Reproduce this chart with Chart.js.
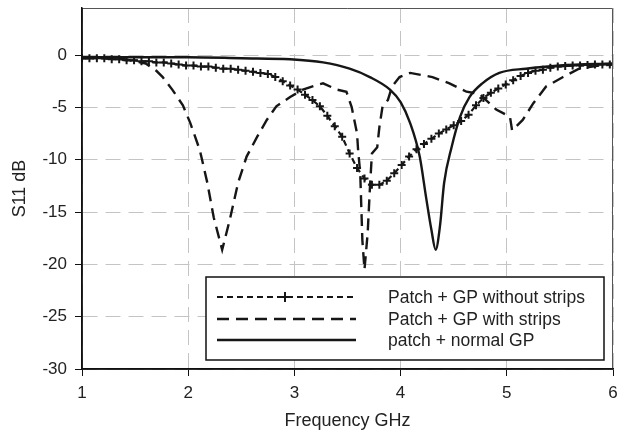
<!DOCTYPE html>
<html>
<head>
<meta charset="utf-8">
<script src="https://cdn.jsdelivr.net/npm/chart.js@4/dist/chart.umd.min.js"></script>
<style>
  html, body { margin: 0; padding: 0; background: #fff; }
  #wrap { width: 619px; height: 434px; }
</style>
</head>
<body>
<div id="wrap"><canvas id="chart"></canvas></div>
<script>
// frequency (GHz) / S11 (dB)
const freqNoStrips = [1.00, 1.07, 1.14, 1.21, 1.28, 1.35, 1.42, 1.49, 1.56, 1.63, 1.70, 1.77, 1.84, 1.91, 1.98,
  2.05, 2.12, 2.19, 2.26, 2.33, 2.40, 2.47, 2.54, 2.61, 2.68, 2.75, 2.82, 2.89, 2.96, 3.03, 3.10, 3.17, 3.24,
  3.31, 3.38, 3.45, 3.52, 3.59, 3.66, 3.73, 3.80, 3.87, 3.94, 4.01, 4.08, 4.15, 4.22, 4.29, 4.36, 4.43, 4.50,
  4.57, 4.64, 4.71, 4.78, 4.85, 4.92, 4.99, 5.06, 5.13, 5.20, 5.27, 5.34, 5.41, 5.48, 5.55, 5.62, 5.69, 5.76,
  5.83, 5.90, 5.97];
const s11NoStrips = [-0.3, -0.3, -0.3, -0.3, -0.4, -0.4, -0.5, -0.5, -0.6, -0.6, -0.7, -0.7, -0.8, -0.9, -1.0,
  -1.0, -1.1, -1.1, -1.2, -1.3, -1.3, -1.4, -1.5, -1.6, -1.7, -1.8, -2.1, -2.5, -2.9, -3.3, -3.8, -4.3, -4.9,
  -5.8, -6.8, -7.8, -9.4, -10.8, -11.8, -12.4, -12.4, -12.0, -11.3, -10.5, -9.7, -9.0, -8.5, -8.0, -7.5, -7.1, -6.7,
  -6.3, -5.7, -4.8, -4.1, -3.6, -3.2, -2.8, -2.4, -2.0, -1.7, -1.5, -1.4, -1.2, -1.1, -1.05, -1.0, -1.0, -0.95,
  -0.9, -0.9, -0.9];

const freqStrips = [1.00, 1.20, 1.40, 1.50, 1.60, 1.70, 1.76, 1.85, 1.95, 2.02, 2.11, 2.18, 2.24, 2.32, 2.39,
  2.47, 2.55, 2.65, 2.74, 2.83, 2.96, 3.08, 3.20, 3.27, 3.40, 3.49, 3.54, 3.59, 3.60, 3.62, 3.63, 3.64, 3.66,
  3.69, 3.71, 3.73, 3.78, 3.80, 3.83, 3.88, 3.92, 3.99, 4.09, 4.30, 4.46, 4.62, 4.74, 4.90, 5.03, 5.05, 5.15,
  5.25, 5.37, 5.53, 5.68, 5.87, 6.00];
const s11Strips = [-0.3, -0.3, -0.4, -0.6, -0.8, -1.5, -2.1, -3.3, -4.8, -6.5, -9.1, -12.2, -15.5, -18.6, -15.8,
  -12.2, -9.7, -7.8, -6.2, -4.9, -4.0, -3.3, -2.9, -2.7, -3.3, -3.5, -5.0, -7.5, -9.1, -11.3, -14.5, -17.7, -20.5,
  -17.0, -12.9, -9.4, -8.8, -6.9, -4.9, -4.3, -3.0, -2.1, -1.7, -2.1, -2.7, -3.5, -3.7, -5.2, -5.9, -7.2, -6.2,
  -4.6, -3.0, -2.1, -1.3, -1.0, -0.9];

const freqNormal = [1.00, 1.50, 2.00, 2.50, 2.96, 3.27, 3.52, 3.71, 3.90, 4.00, 4.09, 4.18, 4.24, 4.29, 4.33,
  4.37, 4.41, 4.48, 4.56, 4.65, 4.77, 4.93, 5.18, 5.50, 6.00];
const s11Normal = [-0.2, -0.2, -0.2, -0.3, -0.4, -0.7, -1.3, -2.1, -3.3, -4.5, -6.5, -9.7, -13.6, -16.7, -18.6,
  -16.4, -12.2, -8.8, -5.9, -4.0, -2.7, -1.7, -1.3, -1.0, -0.8];

const seriesNames = ["Patch + GP without strips", "Patch + GP with strips", "patch + normal GP"];
const xTicks = [1, 2, 3, 4, 5, 6];
const yTicks = [-30, -25, -20, -15, -10, -5, 0];

function toPoints(xs, ys) {
  const pts = [];
  for (let i = 0; i < xs.length; i++) {
    pts.push({ x: xs[i], y: ys[i] });
  }
  return pts;
}

const ink = "#161616";
const fontFam = "'Liberation Sans', Arial, sans-serif";

// solid axes, box round the plot + legend inside the plot
const frameAndLegend = {
  id: "frameAndLegend",
  afterDraw(chart) {
    const ctx = chart.ctx;
    const a = chart.chartArea;
    ctx.save();
    ctx.setLineDash([]);
    ctx.strokeStyle = "#555";
    ctx.lineWidth = 1;
    ctx.beginPath();
    ctx.moveTo(a.left, a.top + 0.5);
    ctx.lineTo(a.right - 0.5, a.top + 0.5);
    ctx.lineTo(a.right - 0.5, a.bottom);
    ctx.stroke();

    ctx.strokeStyle = "#111";
    ctx.lineWidth = 1.5;
    ctx.beginPath();
    ctx.moveTo(a.left, a.top);
    ctx.lineTo(a.left, a.bottom);
    ctx.lineTo(a.right, a.bottom);
    ctx.stroke();

    // legend
    const bx = 206, by = 277, bw = 398, bh = 83;
    ctx.fillStyle = "#fff";
    ctx.fillRect(bx, by, bw, bh);
    ctx.strokeStyle = "#111";
    ctx.lineWidth = 1.5;
    ctx.strokeRect(bx, by, bw, bh);

    const rows = [297, 319, 340];
    chart.data.datasets.forEach((ds, i) => {
      const y = rows[i];
      ctx.strokeStyle = ds.borderColor;
      ctx.lineWidth = ds.borderWidth;
      ctx.setLineDash(ds.borderDash || []);
      ctx.beginPath();
      ctx.moveTo(217, y);
      ctx.lineTo(356, y);
      ctx.stroke();
      ctx.setLineDash([]);
      if (ds.pointRadius > 0) {
        ctx.lineWidth = 2;
        ctx.beginPath();
        ctx.moveTo(285 - 5, y);
        ctx.lineTo(285 + 5, y);
        ctx.moveTo(285, y - 5);
        ctx.lineTo(285, y + 5);
        ctx.stroke();
      }
      ctx.fillStyle = "#222";
      ctx.font = "17.5px " + fontFam;
      ctx.textBaseline = "middle";
      ctx.fillText(ds.label, 388, y + 1);
    });
    ctx.restore();
  }
};

new Chart(document.getElementById("chart"), {
  type: "line",
  data: {
    datasets: [
      {
        label: seriesNames[0],
        data: toPoints(freqNoStrips, s11NoStrips),
        borderColor: ink,
        borderWidth: 2.2,
        borderDash: [6, 4],
        pointStyle: "cross",
        pointRadius: 4,
        pointBorderWidth: 2,
        pointBorderColor: ink,
        tension: 0
      },
      {
        label: seriesNames[1],
        data: toPoints(freqStrips, s11Strips),
        borderColor: ink,
        borderWidth: 2.4,
        borderDash: [12, 7],
        pointRadius: 0,
        tension: 0
      },
      {
        label: seriesNames[2],
        data: toPoints(freqNormal, s11Normal),
        borderColor: ink,
        borderWidth: 2.4,
        pointRadius: 0,
        cubicInterpolationMode: "monotone"
      }
    ]
  },
  options: {
    responsive: true,
    maintainAspectRatio: false,
    animation: false,
    layout: { padding: { left: 0, right: 6, top: 8, bottom: 0 } },
    plugins: {
      legend: { display: false },
      tooltip: { enabled: false }
    },
    scales: {
      x: {
        type: "linear",
        min: 1,
        max: 6,
        afterFit(scale) {
          scale.height = 65;
          scale.paddingLeft = 0;
          scale.paddingRight = 0;
        },
        afterBuildTicks(scale) { scale.ticks = xTicks.map(v => ({ value: v })); },
        border: { display: true, color: "#111", width: 1.5, dash: [15, 8] },
        grid: {
          color: "#c4c4c4",
          lineWidth: 1,
          tickBorderDash: [],
          tickColor: "#111",
          tickLength: 7,
          drawTicks: true
        },
        ticks: {
          color: "#222",
          padding: 7,
          font: { family: fontFam, size: 17 },
          maxRotation: 0
        },
        title: {
          display: true,
          text: "Frequency GHz",
          color: "#222",
          padding: { top: 4, bottom: 2 },
          font: { family: fontFam, size: 18 }
        }
      },
      y: {
        type: "linear",
        min: -30,
        max: 4.5,
        afterFit(scale) {
          scale.width = 82;
          scale.paddingTop = 0;
          scale.paddingBottom = 0;
        },
        afterBuildTicks(scale) { scale.ticks = yTicks.map(v => ({ value: v })); },
        border: { display: true, color: "#111", width: 1.5, dash: [15, 8] },
        grid: {
          color: "#c4c4c4",
          lineWidth: 1,
          tickBorderDash: [],
          tickColor: "#111",
          tickLength: 7
        },
        ticks: {
          color: "#222",
          padding: 8,
          font: { family: fontFam, size: 17 }
        },
        title: {
          display: true,
          text: "S11 dB",
          color: "#222",
          padding: { top: 9, bottom: 4 },
          font: { family: fontFam, size: 18 }
        }
      }
    }
  },
  plugins: [frameAndLegend]
});
</script>
</body>
</html>
